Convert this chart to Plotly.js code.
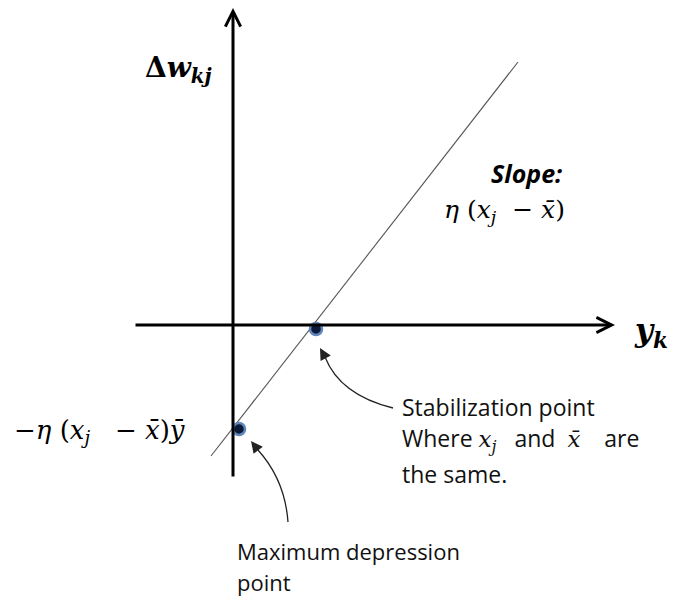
<!DOCTYPE html>
<html>
<head>
<meta charset="utf-8">
<script src="https://cdn.plot.ly/plotly-3.0.1.min.js"></script>
<style>html,body{margin:0;padding:0;background:#fff;}#chart{width:674px;height:597px;}</style>
</head>
<body>
<div id="chart"></div>
<script>
// ---- data (origin = crossing of the two axes) ----
var lineX = [-22, 285];
var lineY = [-131, 263];
var pointNames = ["Stabilization point", "Maximum depression point"];
var pointX = [83, 6];
var pointY = [-4, -104];

var NB = "\u00a0";
var axisLabelX = "<b><i>y</i></b><b><i><sub>k</sub></i></b>";
var axisLabelY = "<b>Δ</b><b><i>w</i></b><b><i><sub>kj</sub></i></b>";
var slopeTitle = "Slope:";
var slopeExpr = "<i>η</i>" + NB + "(<i>x</i><sub><i>j</i></sub>" + NB + NB + "−" + NB + "<i>x̄</i>)";
var interceptExpr = "−<i>η</i>" + NB + "(<i>x</i><sub><i>j</i></sub>" + NB + NB + NB + "−" + NB + "<i>x̄</i>)<i>ȳ</i>";
var MATHSPAN = "<span style='font-family:DejaVu Serif'>";
var stabLines = ["Stabilization point",
  "Where " + MATHSPAN + "<i>x</i><sub><i>j</i></sub></span>" + NB + NB + NB + "and" + NB + NB + MATHSPAN + "<i>x̄</i></span>" + NB + NB + NB + NB + "are",
  "the same."];
var maxLines = ["Maximum depression", "point"];

var SERIF = "DejaVu Serif";
var SANS = "Open Sans";

var traces = [
  {x: lineX, y: lineY, mode: "lines", type: "scatter",
   line: {color: "#555", width: 1.1}, hoverinfo: "skip"},
  {x: pointX, y: pointY, mode: "markers", type: "scatter", text: pointNames,
   marker: {size: 12, color: "#0b1a38", line: {color: "#6286bb", width: 2.5}}}
];

var annotations = [
  // axes with arrows
  {x: 0, y: 317, ax: 0, ay: -153, xref: "x", yref: "y", axref: "x", ayref: "y",
   text: "", showarrow: true, arrowhead: 5, arrowwidth: 3, arrowsize: 1, arrowcolor: "#000"},
  {x: 382, y: 0, ax: -99, ay: 0, xref: "x", yref: "y", axref: "x", ayref: "y",
   text: "", showarrow: true, arrowhead: 5, arrowwidth: 3, arrowsize: 1, arrowcolor: "#000"},
  // arrowheads of curved pointers
  {x: 87, y: -23, ax: 92, ay: -32, xref: "x", yref: "y", axref: "x", ayref: "y",
   text: "", showarrow: true, arrowhead: 2, arrowwidth: 1.3, arrowsize: 1.8, arrowcolor: "#222"},
  {x: 18, y: -116, ax: 25, ay: -125, xref: "x", yref: "y", axref: "x", ayref: "y",
   text: "", showarrow: true, arrowhead: 2, arrowwidth: 1.3, arrowsize: 1.8, arrowcolor: "#222"},
  // labels
  {x: -90, y: 256, xanchor: "left", yanchor: "middle", text: axisLabelY, showarrow: false,
   font: {family: SERIF, size: 28, color: "#000"}},
  {x: 399, y: -7, xanchor: "left", yanchor: "middle", text: axisLabelX, showarrow: false,
   font: {family: SERIF, size: 31, color: "#000"}},
  {x: 293, y: 152, xanchor: "center", yanchor: "middle", text: "<b><i>" + slopeTitle + "</i></b>", showarrow: false,
   font: {family: SANS, size: 25, color: "#000"}},
  {x: 271, y: 114, xanchor: "center", yanchor: "middle", text: slopeExpr, showarrow: false,
   font: {family: SERIF, size: 25, color: "#000"}},
  {x: -221, y: -106, xanchor: "left", yanchor: "middle", text: interceptExpr, showarrow: false,
   font: {family: SERIF, size: 26, color: "#000"}}
];
var stabY = [-82, -114, -149];
stabLines.forEach(function (t, i) {
  annotations.push({x: 167, y: stabY[i], xanchor: "left", yanchor: "middle", text: t, showarrow: false,
    font: {family: SANS, size: 23, color: "#111"}});
});
var maxY = [-226, -257];
maxLines.forEach(function (t, i) {
  annotations.push({x: 2, y: maxY[i], xanchor: "left", yanchor: "middle", text: t, showarrow: false,
    font: {family: SANS, size: 22, color: "#111"}});
});

var shapes = [
  {type: "path", xref: "x", yref: "y", path: "M160,-83 Q107,-70 92,-32",
   line: {color: "#222", width: 1.3}},
  {type: "path", xref: "x", yref: "y", path: "M55,-197 Q52,-155 25,-125",
   line: {color: "#222", width: 1.3}}
];

var layout = {
  width: 674, height: 597,
  margin: {l: 0, r: 0, t: 0, b: 0},
  paper_bgcolor: "#fff", plot_bgcolor: "#fff",
  showlegend: false,
  xaxis: {range: [-233, 441], visible: false, fixedrange: true},
  yaxis: {range: [-272, 325], visible: false, fixedrange: true},
  annotations: annotations,
  shapes: shapes
};

Plotly.newPlot("chart", traces, layout, {displayModeBar: false, staticPlot: true});
</script>
</body>
</html>
